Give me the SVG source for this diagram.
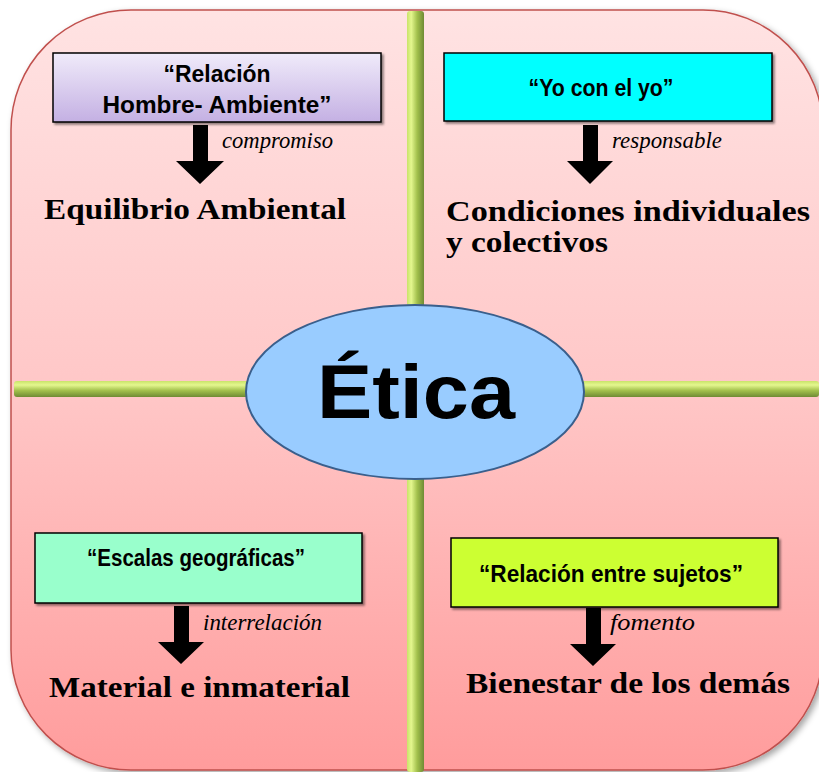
<svg xmlns="http://www.w3.org/2000/svg" width="819" height="772" viewBox="0 0 819 772">
<defs>
<linearGradient id="bg" x1="0" y1="0" x2="0" y2="1">
<stop offset="0" stop-color="#FFE3E3"/>
<stop offset="0.5" stop-color="#FFC7C7"/>
<stop offset="1" stop-color="#FF9C9C"/>
</linearGradient>
<linearGradient id="barH" x1="0" y1="0" x2="0" y2="1">
<stop offset="0" stop-color="#C9E36A"/>
<stop offset="0.25" stop-color="#E4F78E"/>
<stop offset="0.6" stop-color="#A2C04C"/>
<stop offset="1" stop-color="#6F8B34"/>
</linearGradient>
<linearGradient id="barV" x1="0" y1="0" x2="1" y2="0">
<stop offset="0" stop-color="#C9E36A"/>
<stop offset="0.25" stop-color="#E4F78E"/>
<stop offset="0.6" stop-color="#A2C04C"/>
<stop offset="1" stop-color="#6F8B34"/>
</linearGradient>
<linearGradient id="purple" x1="0" y1="0" x2="0" y2="1">
<stop offset="0" stop-color="#F0EBFA"/>
<stop offset="1" stop-color="#C4B0E3"/>
</linearGradient>
<filter id="shadow" x="-5%" y="-5%" width="115%" height="115%">
<feDropShadow dx="3" dy="3" stdDeviation="3" flood-color="#000" flood-opacity="0.35"/>
</filter>
<filter id="bshadow" x="-5%" y="-10%" width="115%" height="130%">
<feDropShadow dx="2" dy="2" stdDeviation="1.2" flood-color="#000" flood-opacity="0.45"/>
</filter>
</defs>
<style>
.box{stroke:#000;stroke-width:1.5;filter:url(#bshadow)}
.bt{font-family:"Liberation Sans",Arial,sans-serif;font-weight:bold;font-size:24px;fill:#000;text-anchor:middle}
.it{font-family:"Liberation Serif","Times New Roman",serif;font-style:italic;font-size:23px;fill:#000}
.res{font-family:"Liberation Serif","Times New Roman",serif;font-weight:bold;font-size:30px;fill:#000}
.arr{fill:#000}
</style>
<rect id="background" x="11" y="10" width="812" height="760" rx="120" ry="120" fill="url(#bg)" stroke="#C0504D" stroke-width="1.5" filter="url(#shadow)"/>
<g id="connectors">
<rect x="407" y="11" width="17" height="761" rx="3" fill="url(#barV)"/>
<rect x="14" y="381" width="805" height="16" rx="3" fill="url(#barH)"/>
<polygon class="arr" points="193,125 208,125 208,161 224,161 200,184 176,161 193,161"/>
<polygon class="arr" points="583,125 598,125 598,161 613,161 590,184 567,161 583,161"/>
<polygon class="arr" points="174,606 189,606 189,642 204,642 181,664 158,642 174,642"/>
<polygon class="arr" points="586,608 601,608 601,644 616,644 593,666 570,644 586,644"/>
</g>
<g id="etica">
<ellipse cx="415" cy="392" rx="169" ry="87" fill="#99CCFF" stroke="#3A5F8C" stroke-width="2"/>
<text x="416" y="418" font-family="'Liberation Sans',Arial,sans-serif" font-weight="bold" font-size="76" text-anchor="middle" textLength="198" lengthAdjust="spacingAndGlyphs">Ética</text>
</g>
<g id="q1">
<rect class="box" x="53" y="53" width="328" height="69" fill="url(#purple)"/>
<text class="bt" x="217" y="82" textLength="107" lengthAdjust="spacingAndGlyphs">“Relación</text>
<text class="bt" x="217" y="113" textLength="229" lengthAdjust="spacingAndGlyphs">Hombre- Ambiente”</text>
<text class="it" x="222" y="148" textLength="111" lengthAdjust="spacingAndGlyphs">compromiso</text>
<text class="res" x="44" y="219" textLength="302" lengthAdjust="spacingAndGlyphs">Equilibrio Ambiental</text>
</g>
<g id="q2">
<rect class="box" x="444" y="53" width="328" height="68" fill="#00FFFF"/>
<text class="bt" x="601" y="96" textLength="145" lengthAdjust="spacingAndGlyphs">“Yo con el yo”</text>
<text class="it" x="612" y="148" textLength="110" lengthAdjust="spacingAndGlyphs">responsable</text>
<text class="res" x="446" y="221" textLength="364" lengthAdjust="spacingAndGlyphs">Condiciones individuales</text>
<text class="res" x="446" y="252" textLength="162" lengthAdjust="spacingAndGlyphs">y colectivos</text>
</g>
<g id="q3">
<rect class="box" x="35" y="533" width="327" height="70" fill="#99FFCC"/>
<text class="bt" x="196" y="566" textLength="218" lengthAdjust="spacingAndGlyphs">“Escalas geográficas”</text>
<text class="it" x="203" y="630" textLength="119" lengthAdjust="spacingAndGlyphs">interrelación</text>
<text class="res" x="49" y="697" textLength="301" lengthAdjust="spacingAndGlyphs">Material e inmaterial</text>
</g>
<g id="q4">
<rect class="box" x="451" y="538" width="327" height="69" fill="#CCFF33"/>
<text class="bt" x="611" y="582" textLength="264" lengthAdjust="spacingAndGlyphs">“Relación entre sujetos”</text>
<text class="it" x="610" y="630" textLength="85" lengthAdjust="spacingAndGlyphs">fomento</text>
<text class="res" x="466" y="693" textLength="324" lengthAdjust="spacingAndGlyphs">Bienestar de los demás</text>
</g>
</svg>
